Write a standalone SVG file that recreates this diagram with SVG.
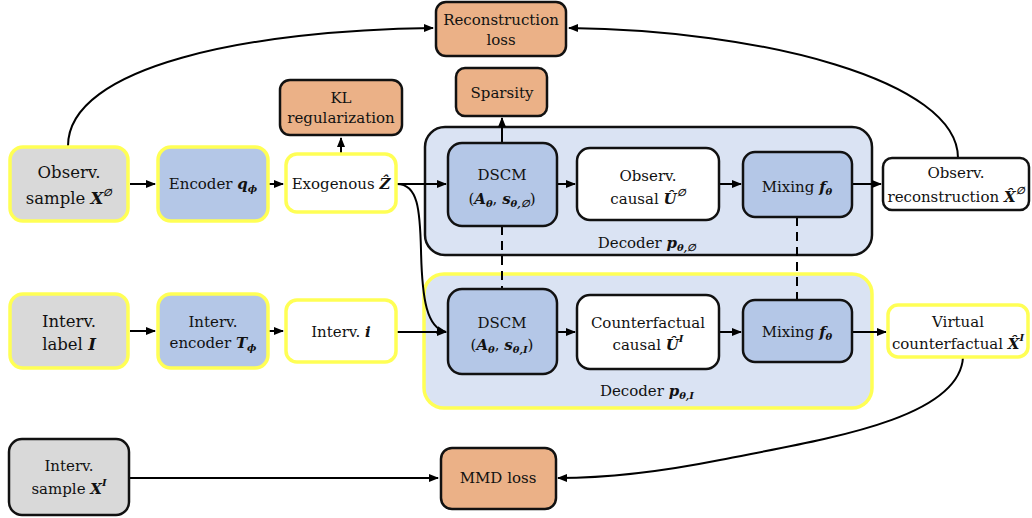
<svg xmlns="http://www.w3.org/2000/svg" width="1032" height="518" viewBox="0 0 1032 518">
<style>
text{font-family:"DejaVu Serif","Liberation Serif",serif;font-size:15px;fill:#111;text-anchor:middle}
.big{font-size:16.5px}
.m{font-weight:bold;font-style:italic}
.s{font-size:10px;font-weight:bold;font-style:italic}
.bk{stroke:#111;stroke-width:2.5}
.yl{stroke:#ffff55;stroke-width:3.5}
.gray{fill:#d9d9d9}
.blue{fill:#b4c7e7}
.org{fill:#ebb187}
.wh{fill:#fff}
.cont{fill:#dae3f3}
.c{fill:none;stroke:#000;stroke-width:2}
.d{fill:none;stroke:#000;stroke-width:2;stroke-dasharray:9,6}
</style>
<defs>
<marker id="ah" viewBox="0 0 10 10" refX="9" refY="5" markerWidth="5" markerHeight="5" orient="auto" markerUnits="strokeWidth">
<path d="M0,1 L10,5 L0,9 z" fill="#000"/>
</marker>
</defs>
<rect width="1032" height="518" fill="#fff"/>

<g id="decoder-obs">
<rect class="cont bk" x="425" y="127" width="447" height="128" rx="20"/>
<text x="647" y="248">Decoder <tspan class="m">p</tspan><tspan class="s" dy="3">θ,∅</tspan></text>
</g>
<g id="decoder-int">
<rect class="cont yl" x="424" y="274" width="448" height="134" rx="20"/>
<text x="647" y="396">Decoder <tspan class="m">p</tspan><tspan class="s" dy="3">θ,I</tspan></text>
</g>

<g id="connectors">
<path class="c" d="M130,184 L155,184" marker-end="url(#ah)"/>
<path class="c" d="M269,184 L283,184" marker-end="url(#ah)"/>
<path class="c" d="M130,331 L155,331" marker-end="url(#ah)"/>
<path class="c" d="M269,331 L283,331" marker-end="url(#ah)"/>
<path class="c" d="M341,153 L341,138" marker-end="url(#ah)"/>
<path class="c" d="M397,184 L446,184" marker-end="url(#ah)"/>
<path class="c" d="M397,184 C418,184 420,210 421,250 C422,300 427,328 446,332" marker-end="url(#ah)"/>
<path class="c" d="M397,332 L446,332" marker-end="url(#ah)"/>
<path class="c" d="M557,184 L575,184" marker-end="url(#ah)"/>
<path class="c" d="M719,184 L741,184" marker-end="url(#ah)"/>
<path class="c" d="M852,184 L881,184" marker-end="url(#ah)"/>
<path class="c" d="M502,143 L502,118" marker-end="url(#ah)"/>
<path class="c" d="M557,332 L575,332" marker-end="url(#ah)"/>
<path class="c" d="M719,332 L741,332" marker-end="url(#ah)"/>
<path class="c" d="M852,332 L886,332" marker-end="url(#ah)"/>
<path class="d" d="M502,226 L502,289"/>
<path class="d" d="M797,217 L797,300"/>
<path class="c" d="M68,146 C68,66 250,30 433,28" marker-end="url(#ah)"/>
<path class="c" d="M958,158 C958,80 760,30 569,28" marker-end="url(#ah)"/>
<path class="c" d="M963,357 C960,420 820,440 720,460 C650,474 600,478 558,478" marker-end="url(#ah)"/>
<path class="c" d="M130,478 L438,478" marker-end="url(#ah)"/>
</g>

<g id="obs-sample">
<rect class="gray yl" x="10" y="147" width="118" height="74" rx="13"/>
<text class="big" x="69" y="178">Observ.</text>
<text class="big" x="69" y="204">sample <tspan class="m">X</tspan><tspan class="s" dy="-8">∅</tspan></text>
</g>
<g id="encoder">
<rect class="blue yl" x="158" y="147" width="110" height="74" rx="13"/>
<text x="213" y="189">Encoder <tspan class="m">q</tspan><tspan class="s" dy="3">ϕ</tspan></text>
</g>
<g id="exogenous">
<rect class="wh yl" x="286" y="154" width="110" height="58" rx="11"/>
<text x="341" y="189">Exogenous <tspan class="m">Ẑ</tspan></text>
</g>
<g id="kl">
<rect class="org bk" x="280" y="80" width="122" height="55" rx="10"/>
<text x="341" y="103">KL</text>
<text x="341" y="123">regularization</text>
</g>
<g id="recon-loss">
<rect class="org bk" x="436" y="2" width="130" height="54" rx="10"/>
<text x="501" y="25">Reconstruction</text>
<text x="501" y="45">loss</text>
</g>
<g id="sparsity">
<rect class="org bk" x="456" y="68" width="91" height="48" rx="9"/>
<text x="502" y="98">Sparsity</text>
</g>
<g id="dscm-obs">
<rect class="blue bk" x="448" y="143" width="109" height="83" rx="14"/>
<text x="502" y="180">DSCM</text>
<text x="502" y="204">(<tspan class="m">A</tspan><tspan class="s" dy="3">θ</tspan><tspan dy="-3">, </tspan><tspan class="m">s</tspan><tspan class="s" dy="3">θ,∅</tspan><tspan dy="-3">)</tspan></text>
</g>
<g id="obs-causal">
<rect class="wh bk" x="577" y="148" width="142" height="72" rx="13"/>
<text x="648" y="181">Observ.</text>
<text x="648" y="204">causal <tspan class="m">Û</tspan><tspan class="s" dy="-8">∅</tspan></text>
</g>
<g id="mixing-obs">
<rect class="blue bk" x="743" y="152" width="109" height="65" rx="12"/>
<text x="797" y="192">Mixing <tspan class="m">f</tspan><tspan class="s" dy="3">θ</tspan></text>
</g>
<g id="obs-recon">
<rect class="wh bk" x="883" y="158" width="146" height="52" rx="9"/>
<text x="956" y="178">Observ.</text>
<text x="956" y="202">reconstruction <tspan class="m">X̂</tspan><tspan class="s" dy="-8">∅</tspan></text>
</g>

<g id="int-label">
<rect class="gray yl" x="10" y="294" width="118" height="74" rx="13"/>
<text class="big" x="69" y="327">Interv.</text>
<text class="big" x="69" y="350">label <tspan class="m">I</tspan></text>
</g>
<g id="int-encoder">
<rect class="blue yl" x="158" y="294" width="110" height="74" rx="13"/>
<text x="213" y="327">Interv.</text>
<text x="213" y="348">encoder <tspan class="m">T</tspan><tspan class="s" dy="3">ϕ</tspan></text>
</g>
<g id="int-i">
<rect class="wh yl" x="286" y="300" width="110" height="62" rx="11"/>
<text x="341" y="337">Interv. <tspan class="m">i</tspan></text>
</g>
<g id="dscm-int">
<rect class="blue bk" x="448" y="289" width="109" height="85" rx="14"/>
<text x="502" y="328">DSCM</text>
<text x="502" y="350">(<tspan class="m">A</tspan><tspan class="s" dy="3">θ</tspan><tspan dy="-3">, </tspan><tspan class="m">s</tspan><tspan class="s" dy="3">θ,I</tspan><tspan dy="-3">)</tspan></text>
</g>
<g id="cf-causal">
<rect class="wh bk" x="577" y="295" width="142" height="74" rx="13"/>
<text x="648" y="328">Counterfactual</text>
<text x="648" y="350">causal <tspan class="m">Û</tspan><tspan class="s" dy="-8">I</tspan></text>
</g>
<g id="mixing-int">
<rect class="blue bk" x="743" y="300" width="109" height="62" rx="12"/>
<text x="797" y="337">Mixing <tspan class="m">f</tspan><tspan class="s" dy="3">θ</tspan></text>
</g>
<g id="virtual-cf">
<rect class="wh yl" x="888" y="305" width="140" height="52" rx="10"/>
<text x="958" y="327">Virtual</text>
<text x="958" y="349">counterfactual <tspan class="m">X̂</tspan><tspan class="s" dy="-8">I</tspan></text>
</g>

<g id="int-sample">
<rect class="gray bk" x="9" y="439" width="120" height="76" rx="13"/>
<text x="69" y="471">Interv.</text>
<text x="69" y="494">sample <tspan class="m">X</tspan><tspan class="s" dy="-8">I</tspan></text>
</g>
<g id="mmd">
<rect class="org bk" x="441" y="448" width="115" height="61" rx="11"/>
<text x="498" y="483">MMD loss</text>
</g>
</svg>
